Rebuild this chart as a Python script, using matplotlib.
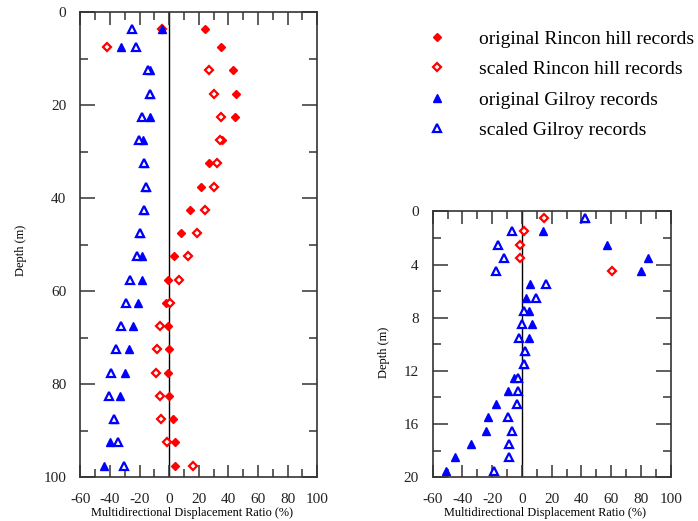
import numpy as np
import matplotlib
matplotlib.use("Agg")
import matplotlib.pyplot as plt
from matplotlib.ticker import MultipleLocator

plt.rcParams['font.family'] = ['Liberation Serif', 'DejaVu Serif']
plt.rcParams['axes.unicode_minus'] = False

# ---------------- data: left panel (Rincon hill / Gilroy, 0-100 m) ----------------
depth_left = [3.5, 7.5, 12.5, 17.5, 22.5, 27.5, 32.5, 37.5, 42.5, 47.5,
              52.5, 57.5, 62.5, 67.5, 72.5, 77.5, 82.5, 87.5, 92.5, 97.5]
rincon_orig_left = [24, 34.7, 42.8, 45, 44.3, 36, 26.8, 21.2, 14, 7.7,
                    3.2, -1.1, -1.8, -0.9, 0.2, -0.9, 0, 2.5, 4, 4]
rincon_scaled_left = [-5, -41.9, 26.8, 30.2, 35.3, 34.2, 32, 30.4, 24.1, 18.5,
                      12.8, 6.5, 0.9, -5.9, -7.9, -8.6, -6.1, -5.6, -1.4, 16.2]
gilroy_orig_left = [-5, -32.2, -13, -13, -13, -17.6, -16.9, -15.3, -16.9, -19.8,
                    -18.2, -18.2, -20.9, -24.3, -27.2, -29.9, -33.3, -37.4, -40, -44.1]
gilroy_scaled_left = [-25.4, -22.7, -14.2, -13, -18.2, -20.3, -16.9, -15.3, -16.9, -19.8,
                      -21.6, -26.6, -29.3, -32.6, -36.2, -39.4, -40.5, -37.4, -34.4, -30.4]

# ---------------- data: right panel (0-20 m) ----------------
depth_right = [0.5, 1.5, 2.5, 3.5, 4.5, 5.5, 6.5, 7.5, 8.5, 9.5,
               10.5, 11.5, 12.5, 13.5, 14.5, 15.5, 16.5, 17.5, 18.5, 19.5]
depth_right_rincon = [0.5, 1.5, 2.5, 3.5, 4.5]
rincon_scaled_right = [14.6, 1.6, -1.1, -1.1, 60.6]
gilroy_orig_right = [42.6, 13.9, 57.2, 84.8, 79.7, 5.2, 2.7, 4.5, 6.7, 4.5,
                     2.2, 1.6, -5.6, -9.4, -17.3, -23.1, -24, -34.3, -45.3, -51.2]
gilroy_scaled_right = [42.6, -6.7, -16.4, -11.9, -17.5, 16.4, 9.4, 1.1, 0, -1.8,
                       2.2, 1.6, -2.9, -2.9, -3.4, -9.4, -6.7, -8.5, -8.5, -19.1]

legend_labels = ["original Rincon hill records", "scaled Rincon hill records",
                 "original Gilroy records", "scaled Gilroy records"]
x_ticks = [-60, -40, -20, 0, 20, 40, 60, 80, 100]
xlabel = "Multidirectional Displacement Ratio (%)"
ylabel = "Depth (m)"

RED = "#ff0000"
BLUE = "#0000ff"
SPINE = "#333333"

sty_rf = dict(marker='D', ms=4.2, color=RED, mec=RED, mfc=RED, mew=1.0, ls='none')
sty_ro = dict(marker='D', ms=3.8, color=RED, mec=RED, mfc='white', mew=1.6, ls='none')
sty_bf = dict(marker='^', ms=6, color=BLUE, mec=BLUE, mfc=BLUE, mew=1.0, ls='none')
sty_bo = dict(marker='^', ms=5.5, color=BLUE, mec=BLUE, mfc='white', mew=1.6, ls='none')

fig = plt.figure(figsize=(6.98, 5.21), dpi=100)
axL = fig.add_axes([0.1150, 0.0839, 0.3396, 0.8925])
axR = fig.add_axes([0.6199, 0.0839, 0.3410, 0.5105])


def style(ax, ymax, ymajor, yminor, ylabel_xy, xlabel_xy):
    ax.set_xlim(-60, 100)
    ax.set_ylim(ymax, 0)
    ax.set_xticks(x_ticks)
    ax.xaxis.set_minor_locator(MultipleLocator(10))
    ax.yaxis.set_major_locator(MultipleLocator(ymajor))
    ax.yaxis.set_minor_locator(MultipleLocator(yminor))
    ax.tick_params(axis='both', which='both', direction='in', top=True, right=True,
                   color=SPINE, width=1.1, labelcolor='#222222', labelsize=11)
    ax.tick_params(axis='x', which='major', length=9, pad=11)
    ax.tick_params(axis='x', which='minor', length=5.5)
    ax.tick_params(axis='y', which='major', length=11, pad=10)
    ax.tick_params(axis='y', which='minor', length=6)
    for s in ax.spines.values():
        s.set_color(SPINE)
        s.set_linewidth(1.2)
    ax.axvline(0, color='black', lw=1.0, zorder=1)
    ax.set_xlabel(xlabel, fontsize=8.8)
    ax.set_ylabel(ylabel, fontsize=9)
    ax.xaxis.set_label_coords(*xlabel_xy)
    ax.yaxis.set_label_coords(*ylabel_xy)


style(axL, 100, 20, 10, (-0.225, 0.489), (0.471, -0.063))
style(axR, 20, 4, 2, (-0.18, 0.47), (0.47, -0.11))

h1, = axL.plot(rincon_orig_left, depth_left, **sty_rf)
h2, = axL.plot(rincon_scaled_left, depth_left, **sty_ro)
h3, = axL.plot(gilroy_orig_left, depth_left, **sty_bf)
h4, = axL.plot(gilroy_scaled_left, depth_left, **sty_bo)

axR.plot(rincon_scaled_right, depth_right_rincon, **sty_ro)
axR.plot(gilroy_orig_right, depth_right, **sty_bf)
axR.plot(gilroy_scaled_right, depth_right, **sty_bo)

fig.legend([h1, h2, h3, h4], legend_labels, loc='upper left',
           bbox_to_anchor=(0.612, 0.942), frameon=False, fontsize=14,
           handlelength=1.0, handletextpad=1.66, labelspacing=0.66,
           borderpad=0, borderaxespad=0, numpoints=1)

fig.savefig("out.png", dpi=100)
